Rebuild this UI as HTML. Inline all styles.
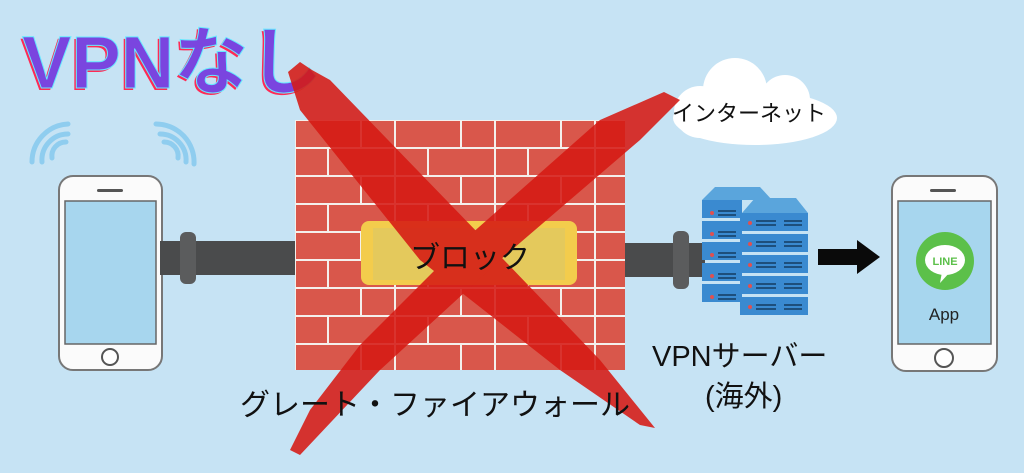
<!DOCTYPE html>
<html><head><meta charset="utf-8"><style>
html,body{margin:0;padding:0;background:#c6e3f4;}
svg{display:block}
text{font-family:"Liberation Sans","Noto Sans CJK JP",sans-serif;}
</style></head><body>
<svg width="1024" height="473" viewBox="0 0 1024 473" xmlns="http://www.w3.org/2000/svg">
<defs>
<pattern id="brick" x="295" y="120" width="100" height="56" patternUnits="userSpaceOnUse">
<rect width="100" height="56" fill="#f4f0ec"/>
<rect x="1" y="1" width="64" height="26" fill="#d9574b"/>
<rect x="67" y="1" width="32" height="26" fill="#d9574b"/>
<rect x="1" y="29" width="31" height="26" fill="#d9574b"/>
<rect x="34" y="29" width="65" height="26" fill="#d9574b"/>
</pattern>
</defs>
<rect width="1024" height="473" fill="#c6e3f4"/>
<!-- title -->
<text x="22" y="88" font-size="74" font-weight="bold" fill="#ff2a55" transform="translate(-2,2)">VPNなし</text>
<text x="22" y="88" font-size="74" font-weight="bold" fill="#7a45df" stroke="#66e8ff" stroke-width="1">VPNなし</text>
<!-- cloud -->
<g fill="#ffffff">
<ellipse cx="755" cy="118" rx="82" ry="27"/>
<circle cx="735" cy="90" r="32"/>
<circle cx="785" cy="100" r="25"/>
<circle cx="700" cy="112" r="26"/>
</g>
<text x="672" y="121" font-size="22" fill="#111">インターネット</text>
<!-- wifi -->
<g fill="none" stroke="#8fcdef" stroke-width="5" stroke-linecap="round">
<path d="M52 158 A14 14 0 0 1 66 142"/><path d="M42 162 A26 26 0 0 1 68 134"/><path d="M32 162 A38 38 0 0 1 68 124"/>
<path d="M178 158 A14 14 0 0 0 164 142"/><path d="M186 162 A26 26 0 0 0 160 134"/><path d="M194 164 A38 38 0 0 0 156 124"/>
</g>
<!-- left phone -->
<rect x="59" y="176" width="103" height="194" rx="14" fill="#fbfbfb" stroke="#777" stroke-width="2"/>
<rect x="65" y="201" width="91" height="143" fill="#a7d6ee" stroke="#666" stroke-width="1.5"/>
<rect x="97" y="189" width="26" height="3" rx="1.5" fill="#555"/>
<circle cx="110" cy="357" r="8" fill="#fff" stroke="#555" stroke-width="2"/>
<!-- pipes -->
<rect x="160" y="241" width="140" height="34" fill="#4a4b4c"/>
<rect x="180" y="232" width="16" height="52" rx="6" fill="#5b5c5d"/>
<rect x="620" y="243" width="85" height="34" fill="#4a4b4c"/>
<rect x="673" y="231" width="16" height="58" rx="6" fill="#5b5c5d"/>
<!-- wall -->
<rect x="295" y="120" width="330" height="250" fill="url(#brick)"/>
<rect x="361" y="221" width="216" height="64" rx="8" fill="#f3cc4c"/>
<rect x="373" y="228" width="192" height="52" fill="#e4c95c"/>
<!-- servers -->
<g>
<polygon points="702,200 715,187 760,187 772,200" fill="#5aa5dc"/>
<polygon points="742,213 755,198 796,198 808,213" fill="#5aa5dc"/>
<g fill="#3a8ad0">
<rect x="702" y="200" width="40" height="18"/><rect x="702" y="221" width="40" height="18"/><rect x="702" y="242" width="40" height="18"/><rect x="702" y="263" width="40" height="18"/><rect x="702" y="284" width="40" height="18"/>
<rect x="740" y="213" width="68" height="18"/><rect x="740" y="234" width="68" height="18"/><rect x="740" y="255" width="68" height="18"/><rect x="740" y="276" width="68" height="18"/><rect x="740" y="297" width="68" height="18"/>
</g>
<g fill="#e05050">
<circle cx="712" cy="213" r="2"/><circle cx="712" cy="234" r="2"/><circle cx="712" cy="255" r="2"/><circle cx="712" cy="276" r="2"/><circle cx="712" cy="297" r="2"/>
<circle cx="750" cy="223" r="2"/><circle cx="750" cy="244" r="2"/><circle cx="750" cy="265" r="2"/><circle cx="750" cy="286" r="2"/><circle cx="750" cy="307" r="2"/>
</g>
<g stroke="#1d4f7c" stroke-width="2">
<path d="M718 211h18M718 215h18M718 232h18M718 236h18M718 253h18M718 257h18M718 274h18M718 278h18M718 295h18M718 299h18"/>
<path d="M756 221h20M784 221h18M756 225h20M784 225h18M756 242h20M784 242h18M756 246h20M784 246h18M756 263h20M784 263h18M756 267h20M784 267h18M756 284h20M784 284h18M756 288h20M784 288h18M756 305h20M784 305h18M756 309h20M784 309h18"/>
</g>
</g>
<!-- arrow -->
<polygon points="818,249 857,249 857,240 880,257 857,274 857,265 818,265" fill="#0a0a0a"/>
<!-- right phone -->
<rect x="892" y="176" width="105" height="195" rx="14" fill="#fbfbfb" stroke="#777" stroke-width="2"/>
<rect x="898" y="201" width="93" height="143" fill="#a7d6ee" stroke="#666" stroke-width="1.5"/>
<rect x="930" y="189" width="26" height="3" rx="1.5" fill="#555"/>
<circle cx="944" cy="358" r="9" fill="#fff" stroke="#555" stroke-width="2"/>
<circle cx="945" cy="261" r="29" fill="#5cc04a"/>
<ellipse cx="945" cy="260" rx="20" ry="15" fill="#fff"/>
<polygon points="942,272 950,272 940,283" fill="#fff"/>
<text x="945" y="265" font-size="11" font-weight="bold" fill="#5cc04a" text-anchor="middle">LINE</text>
<text x="944" y="320" font-size="17" fill="#222" text-anchor="middle">App</text>
<!-- red X -->
<g fill="#d61a14" opacity="0.88">
<polygon points="288,72 300,62 312,70 330,80 480,235 600,360 655,428 640,425 560,370 420,260 300,110"/>
<polygon points="664,92 680,100 640,140 500,260 380,370 300,455 290,450 310,410 360,345 470,235 600,120"/>
</g>
<!-- labels -->
<text x="470" y="268" font-size="30" fill="#111" text-anchor="middle">ブロック</text>
<text x="652" y="366" font-size="29" fill="#111">VPNサーバー</text>
<text x="705" y="406" font-size="29" fill="#111">(海外)</text>
<text x="240" y="415" font-size="30" fill="#111">グレート・ファイアウォール</text>
</svg>
</body></html>
